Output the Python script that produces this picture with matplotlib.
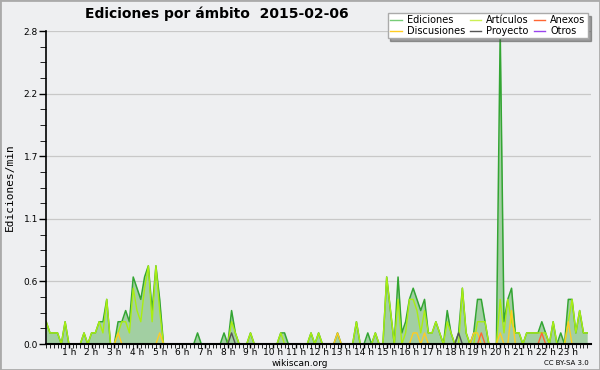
import matplotlib
matplotlib.use('Agg')
import matplotlib.pyplot as plt
from matplotlib.lines import Line2D
from matplotlib.patches import Rectangle
import numpy as np

# edits per minute, one value every 10 minutes (144 points)
ediciones = [0.2, 0.1, 0.1, 0.1, 0, 0.2, 0, 0, 0, 0, 0.1, 0,
             0.1, 0.1, 0.2, 0.2, 0.4, 0, 0, 0.2, 0.2, 0.3, 0.2, 0.6,
             0.5, 0.4, 0.6, 0.7, 0.3, 0.7, 0.4, 0, 0, 0, 0, 0,
             0, 0, 0, 0, 0.1, 0, 0, 0, 0, 0, 0, 0.1,
             0, 0.3, 0.1, 0, 0, 0, 0.1, 0, 0, 0, 0, 0,
             0, 0, 0.1, 0.1, 0, 0, 0, 0, 0, 0, 0.1, 0,
             0.1, 0, 0, 0, 0, 0.1, 0, 0, 0, 0, 0.2, 0,
             0, 0.1, 0, 0.1, 0, 0, 0.6, 0.3, 0, 0.6, 0.1, 0.2,
             0.4, 0.5, 0.4, 0.3, 0.4, 0.1, 0.1, 0.2, 0.1, 0, 0.3, 0.1,
             0, 0.1, 0.5, 0.1, 0, 0.1, 0.4, 0.4, 0.2, 0, 0, 0,
             2.8, 0.2, 0.4, 0.5, 0.1, 0.1, 0, 0.1, 0.1, 0.1, 0.1, 0.2,
             0.1, 0, 0.2, 0, 0.1, 0, 0.4, 0.4, 0.1, 0.3, 0.1, 0.1]

articulos = [0.2, 0.1, 0.1, 0.1, 0, 0.2, 0, 0, 0, 0, 0.1, 0,
             0.1, 0.1, 0.2, 0.1, 0.4, 0, 0, 0.1, 0.2, 0.2, 0.1, 0.5,
             0.3, 0.2, 0.5, 0.7, 0.2, 0.7, 0.3, 0, 0, 0, 0, 0,
             0, 0, 0, 0, 0, 0, 0, 0, 0, 0, 0, 0,
             0, 0.2, 0.1, 0, 0, 0, 0.1, 0, 0, 0, 0, 0,
             0, 0, 0.1, 0, 0, 0, 0, 0, 0, 0, 0.1, 0,
             0.1, 0, 0, 0, 0, 0, 0, 0, 0, 0, 0.2, 0,
             0, 0, 0, 0.1, 0, 0, 0.6, 0.3, 0, 0.4, 0, 0.1,
             0.4, 0.4, 0.3, 0.1, 0.3, 0.1, 0.1, 0.2, 0.1, 0, 0.2, 0.1,
             0, 0, 0.5, 0.1, 0, 0, 0.2, 0.2, 0.2, 0, 0, 0,
             0.4, 0.1, 0.4, 0.2, 0.1, 0.1, 0, 0.1, 0.1, 0.1, 0.1, 0.1,
             0.1, 0, 0.2, 0, 0, 0, 0.2, 0.4, 0.1, 0.3, 0.1, 0.1]

discusiones = [0] * 144
for k, v in [(19, 0.1), (30, 0.1), (77, 0.1), (97, 0.1), (98, 0.1), (100, 0.1),
             (113, 0.1), (114, 0.1), (120, 0.1), (123, 0.3), (138, 0.2)]:
    discusiones[k] = v

anexos = [0] * 144
anexos[115] = 0.1
anexos[131] = 0.1

proyecto = [0] * 144
proyecto[49] = 0.1
proyecto[109] = 0.1

otros = [0] * 144

horas = np.arange(144) / 6.0

bg = '#eeeff1'
fig = plt.figure(figsize=(6, 3.7), dpi=100, facecolor=bg)
ax = fig.add_axes([0.077, 0.070, 0.908, 0.846], facecolor=bg)

ax.fill_between(horas, ediciones, 0, color='#a2cfa2', lw=0, zorder=1)
ax.plot(horas, otros, color='#9944ee', lw=1.0, zorder=2)
ax.plot(horas, ediciones, color='#33a533', lw=1.1, zorder=3)
ax.plot(horas, articulos, color='#aaee11', lw=1.0, zorder=4)
ax.plot(horas, discusiones, color='#ffcc22', lw=1.0, zorder=5)
ax.plot(horas, anexos, color='#ff6633', lw=1.0, zorder=6)
ax.plot(horas, proyecto, color='#555555', lw=1.0, zorder=7)

ax.set_xlim(0, 24)
ax.set_ylim(0, 2.8)

ax.set_yticks([0, 0.56, 1.12, 1.68, 2.24, 2.8])
ax.set_yticklabels(['0.0', '0.6', '1.1', '1.7', '2.2', '2.8'])
ax.set_yticks(np.arange(0, 2.81, 0.14), minor=True)
ax.set_xticks(range(1, 24))
ax.set_xticklabels(['%d h' % h for h in range(1, 24)])
ax.set_xticks(np.arange(0, 24, 1 / 6.0), minor=True)

ax.tick_params(axis='both', labelsize=6.5, colors='black', width=1)
ax.tick_params(axis='y', which='major', length=5, pad=1)
ax.tick_params(axis='y', which='minor', length=4)
ax.tick_params(axis='x', which='both', length=3, pad=0)

ax.grid(axis='y', which='major', color='#c8c8c8', lw=0.9)
ax.set_axisbelow(True)
for s in ['top', 'right']:
    ax.spines[s].set_visible(False)
ax.spines['left'].set_linewidth(1.2)
ax.spines['bottom'].set_linewidth(1.5)
ax.spines['left'].set_zorder(10)
ax.spines['bottom'].set_zorder(10)

ax.set_ylabel('Ediciones/min', family='DejaVu Sans Mono', fontsize=8, labelpad=6)

fig.text(0.142, 0.962, 'Ediciones por ámbito  2015-02-06', fontsize=10,
         fontweight='bold', va='center', ha='left')
fig.text(0.5, 0.018, 'wikiscan.org', fontsize=6.5, ha='center', va='center')
fig.text(0.982, 0.018, 'CC BY-SA 3.0', fontsize=5, ha='right', va='center')

handles = [Line2D([], [], color='#77cc77', lw=1),
           Line2D([], [], color='#ffcc22', lw=1),
           Line2D([], [], color='#ccf055', lw=1),
           Line2D([], [], color='#555555', lw=1),
           Line2D([], [], color='#ff6633', lw=1),
           Line2D([], [], color='#9944ee', lw=1)]
labels = ['Ediciones', 'Discusiones', 'Artículos', 'Proyecto', 'Anexos', 'Otros']
leg = fig.legend(handles, labels, ncol=3, loc='upper right',
                 bbox_to_anchor=(0.988, 0.978), fontsize=7, frameon=True,
                 fancybox=False, shadow=True, handlelength=1.2,
                 handletextpad=0.5, columnspacing=0.5, labelspacing=0.05,
                 borderpad=0.25)
leg.get_frame().set_edgecolor('#aaaaaa')
leg.get_frame().set_facecolor('white')

fig.patches.append(Rectangle((0, 0), 1, 1, transform=fig.transFigure,
                             fill=False, edgecolor='#aaaaaa', lw=2))

plt.savefig('out.png', dpi=100, facecolor=bg)
